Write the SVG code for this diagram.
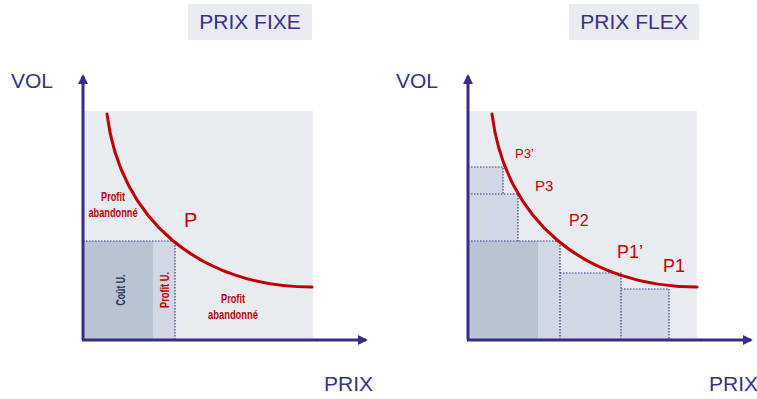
<svg xmlns="http://www.w3.org/2000/svg" width="757" height="399" viewBox="0 0 757 399">
  <style>
    .title { font-family: "Liberation Sans", Arial, sans-serif; font-size: 21px; fill: #3b2f8c; }
    .axislbl { font-family: "Liberation Sans", Arial, sans-serif; font-size: 21px; fill: #3b2f8c; }
    .bg { fill: #e8ebf0; }
    .box { fill: #e8ebf0; }
    .axis { stroke: #3b2a8a; stroke-width: 3; fill: none; }
    .curve { stroke: #c00000; stroke-width: 3; fill: none; stroke-linecap: round; }
    .dot { stroke: #3b3490; stroke-width: 1.2; stroke-dasharray: 1.5 1.5; fill: none; }
    .light { fill: #d2d8e3; }
    .dark { fill: #b8c4d2; }
    .narrow { font-family: "Liberation Sans", Arial, sans-serif; font-weight: bold; font-size: 12px; text-anchor: middle; }
    .red { fill: #c40000; }
    .navy { fill: #2b2a60; }
    .plab { font-family: "Liberation Sans", Arial, sans-serif; fill: #cc0000; }
  </style>
  <defs>
    <marker id="arrow" markerUnits="userSpaceOnUse" markerWidth="10" markerHeight="10" viewBox="0 0 10 10" refX="8" refY="5" orient="auto">
      <path d="M0,0 L10,5 L0,10 Z" fill="#3b2a8a"/>
    </marker>
  </defs>

  <!-- Left chart: fixed price -->
  <g id="chart-fixe">
    <g id="title-fixe">
      <rect class="box" x="188" y="4" width="124" height="36"/>
      <text class="title" x="250" y="29" text-anchor="middle">PRIX FIXE</text>
    </g>
    <rect class="bg" x="83" y="111" width="230" height="229"/>
    <g id="area-fixe">
      <rect class="light" x="83" y="241" width="92" height="99"/>
      <rect class="dark" x="83" y="241" width="70" height="99"/>
      <path class="dot" d="M83,241 H175 V340"/>
    </g>
    <g id="curve-fixe">
      <path class="curve" d="M107,114 C120,220 200,287 312,287"/>
    </g>
    <g id="labels-fixe">
      <text class="narrow red" x="113" y="201" textLength="24" lengthAdjust="spacingAndGlyphs">Profit</text>
      <text class="narrow red" x="113" y="217" textLength="49" lengthAdjust="spacingAndGlyphs">abandonné</text>
      <text class="narrow red" x="233" y="303" textLength="24" lengthAdjust="spacingAndGlyphs">Profit</text>
      <text class="narrow red" x="233" y="319" textLength="50" lengthAdjust="spacingAndGlyphs">abandonné</text>
      <text class="narrow navy" transform="translate(125,290) rotate(-90)" textLength="31" lengthAdjust="spacingAndGlyphs">Coût U.</text>
      <text class="narrow red" transform="translate(169,290) rotate(-90)" textLength="36" lengthAdjust="spacingAndGlyphs">Profit U.</text>
      <text class="plab" x="184" y="227" font-size="20">P</text>
    </g>
    <g id="axes-fixe">
      <line class="axis" x1="83" y1="340" x2="83" y2="76" marker-end="url(#arrow)"/>
      <line class="axis" x1="82" y1="340" x2="366" y2="340" marker-end="url(#arrow)"/>
      <text class="axislbl" x="11" y="88">VOL</text>
      <text class="axislbl" x="324" y="391">PRIX</text>
    </g>
  </g>

  <!-- Right chart: flexible price -->
  <g id="chart-flex">
    <g id="title-flex">
      <rect class="box" x="569" y="4" width="130" height="36"/>
      <text class="title" x="634" y="29" text-anchor="middle">PRIX FLEX</text>
    </g>
    <rect class="bg" x="468" y="111" width="229" height="229"/>
    <g id="steps-flex">
      <rect class="light" x="468" y="167" width="35" height="27"/>
      <rect class="light" x="468" y="194" width="50" height="47"/>
      <rect class="light" x="468" y="241" width="92" height="99"/>
      <rect class="dark" x="468" y="241" width="70" height="99"/>
      <rect class="light" x="560" y="273" width="61" height="67"/>
      <rect class="light" x="621" y="289" width="48" height="51"/>
      <path class="dot" d="M468,167 H503 V194"/>
      <path class="dot" d="M468,194 H518 V241"/>
      <path class="dot" d="M468,241 H560 V340"/>
      <path class="dot" d="M560,273 H621 V340"/>
      <path class="dot" d="M621,289 H669 V340"/>
    </g>
    <g id="curve-flex">
      <path class="curve" d="M492,114 C505,220 585,287 697,287"/>
    </g>
    <g id="labels-flex">
      <text class="plab" x="515" y="158" font-size="13">P3’</text>
      <text class="plab" x="535" y="191" font-size="15">P3</text>
      <text class="plab" x="569" y="226" font-size="16">P2</text>
      <text class="plab" x="617" y="258" font-size="18">P1’</text>
      <text class="plab" x="663" y="272" font-size="18">P1</text>
    </g>
    <g id="axes-flex">
      <line class="axis" x1="468" y1="340" x2="468" y2="76" marker-end="url(#arrow)"/>
      <line class="axis" x1="467" y1="340" x2="751" y2="340" marker-end="url(#arrow)"/>
      <text class="axislbl" x="396" y="88">VOL</text>
      <text class="axislbl" x="709" y="391">PRIX</text>
    </g>
  </g>
</svg>
